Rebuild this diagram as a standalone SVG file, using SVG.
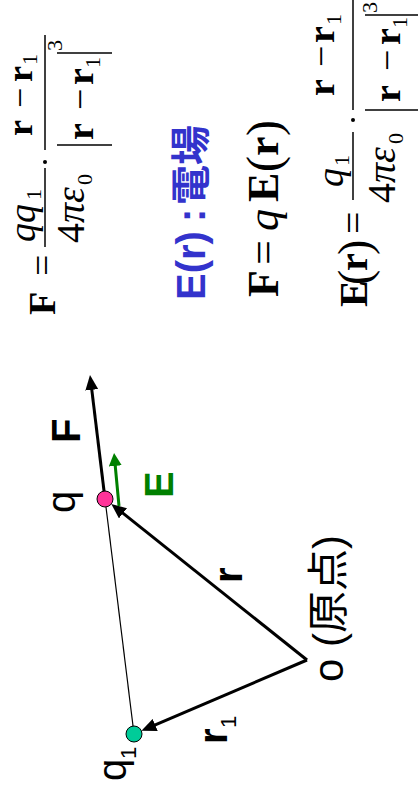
<svg xmlns="http://www.w3.org/2000/svg" width="419" height="796" viewBox="0 0 419 796">
<style>
.m{font-family:"Liberation Serif","Times New Roman",serif;fill:#000}
.s{font-family:"Liberation Sans",Arial,"Noto Sans CJK JP",sans-serif;fill:#000}
.b{font-weight:bold}
.i{font-style:italic}
.bar{stroke:#000;stroke-width:1.5}
.conn{fill:none;stroke:#000;stroke-width:3}
.thin{fill:none;stroke:#000;stroke-width:1.2}
.blue{font-family:"Liberation Sans",Arial,"Noto Sans CJK JP",sans-serif;font-weight:bold;fill:#3333cc}
</style>
<defs>
<marker id="ah" viewBox="0 0 15 13" refX="5" refY="6.5" markerWidth="15" markerHeight="13" markerUnits="userSpaceOnUse" orient="auto"><path d="M0,0 L15,6.5 L0,13 z" fill="#000"/></marker>
<marker id="ahg" viewBox="0 0 13 13" refX="5" refY="6.5" markerWidth="13" markerHeight="13" markerUnits="userSpaceOnUse" orient="auto"><path d="M0,0 L13,6.5 L0,13 z" fill="#008000"/></marker>
</defs>
<rect width="419" height="796" fill="#fff"/>

<g id="connectors">
<line class="thin" x1="134" y1="734" x2="105" y2="499"/>
<line class="conn" x1="105" y1="499" x2="91.2" y2="384.9" marker-end="url(#ah)"/>
<line class="conn" x1="307" y1="660" x2="119.1" y2="510.2" marker-end="url(#ah)"/>
<line class="conn" x1="307" y1="660" x2="150.6" y2="726.9" marker-end="url(#ah)"/>
<line x1="119" y1="506" x2="114.8" y2="461" stroke="#008000" stroke-width="3" marker-end="url(#ahg)"/>
<g transform="translate(0,796) rotate(-90)">
<text class="s b" x="353" y="80" font-size="40">F</text>
<text class="s b" x="298" y="173" font-size="40" style="fill:#008000">E</text>
<text class="s b" x="213" y="242" font-size="40">r</text>
<text class="s b" x="52" y="227" font-size="40">r</text>
<text class="s" x="68" y="236" font-size="22">1</text>
</g>
</g>

<g id="node-q">
<circle cx="105" cy="499" r="8" fill="#ff3399" stroke="#000" stroke-width="1"/>
<text class="s" transform="translate(0,796) rotate(-90)" x="283" y="75" font-size="40">q</text>
</g>

<g id="node-q1">
<circle cx="134" cy="734" r="8" fill="#00cc99" stroke="#000" stroke-width="1"/>
<g transform="translate(0,796) rotate(-90)">
<text class="s" x="15" y="126" font-size="40">q</text>
<text class="s" x="37" y="136" font-size="22">1</text>
</g>
</g>

<g id="node-origin">
<text class="s" transform="translate(0,796) rotate(-90)" x="114" y="343" font-size="42">o (原点)</text>
</g>

<g id="eq-coulomb-force" transform="translate(0,796) rotate(-90)">
<text class="m b" x="481" y="55" font-size="38">F</text>
<text class="m" x="520" y="55" font-size="38">=</text>
<line class="bar" x1="549" y1="45" x2="628" y2="45"/>
<text class="m i" x="554" y="35" font-size="38">qq</text>
<text class="m" x="596" y="41" font-size="22">1</text>
<text class="m" x="553" y="84" font-size="40">4<tspan class="i">πε</tspan></text>
<text class="m" x="611" y="92" font-size="22">0</text>
<circle cx="634" cy="45" r="2"/>
<line class="bar" x1="646" y1="45" x2="761" y2="45"/>
<text class="m b" x="660" y="32" font-size="36">r</text>
<text class="m" x="688" y="32" font-size="36">−</text>
<text class="m b" x="714" y="32" font-size="36">r</text>
<text class="m" x="731" y="37" font-size="22">1</text>
<line class="bar" x1="651" y1="57" x2="651" y2="112"/>
<line class="bar" x1="743" y1="57" x2="743" y2="112"/>
<text class="m b" x="656" y="93" font-size="38">r</text>
<text class="m" x="686" y="93" font-size="38">−</text>
<text class="m b" x="711" y="93" font-size="38">r</text>
<text class="m" x="728" y="100" font-size="22">1</text>
<text class="m" x="745" y="62" font-size="22">3</text>
</g>

<g id="eq-field-label" transform="translate(0,796) rotate(-90)">
<text class="blue" x="496" y="205" font-size="40">E(r)</text>
<text class="blue" x="574" y="205" font-size="40">:</text>
<text class="blue" x="591" y="205" font-size="40" style="font-family:'Noto Sans CJK JP',sans-serif">電場</text>
</g>

<g id="eq-force-field" transform="translate(0,796) rotate(-90)">
<text class="m b" x="499" y="278" font-size="44">F</text>
<text class="m" x="531" y="278" font-size="44">=</text>
<text class="m i" x="565" y="278" font-size="44">q</text>
<text class="m b" x="594" y="278" font-size="44">E</text>
<text class="m" x="624" y="280" font-size="48">(</text>
<text class="m b" x="640" y="278" font-size="44">r</text>
<text class="m" x="660" y="280" font-size="48">)</text>
</g>

<g id="eq-field-coulomb" transform="translate(0,796) rotate(-90)">
<text class="m b" x="489" y="367" font-size="40">E</text>
<text class="m" x="511" y="370" font-size="46">(</text>
<text class="m b" x="525" y="367" font-size="40">r</text>
<text class="m" x="541" y="370" font-size="46">)</text>
<text class="m" x="562" y="367" font-size="40">=</text>
<line class="bar" x1="596" y1="353" x2="664" y2="353"/>
<text class="m i" x="609" y="343" font-size="38">q</text>
<text class="m" x="630" y="349" font-size="22">1</text>
<text class="m" x="593" y="395" font-size="40">4<tspan class="i">πε</tspan></text>
<text class="m" x="652" y="403" font-size="22">0</text>
<circle cx="676" cy="353" r="2"/>
<line class="bar" x1="686" y1="353" x2="800" y2="353"/>
<text class="m b" x="700" y="334" font-size="38">r</text>
<text class="m" x="729" y="334" font-size="38">−</text>
<text class="m b" x="753" y="334" font-size="38">r</text>
<text class="m" x="771" y="341" font-size="22">1</text>
<line class="bar" x1="686" y1="365" x2="686" y2="418"/>
<line class="bar" x1="781" y1="365" x2="781" y2="418"/>
<text class="m b" x="694" y="400" font-size="38">r</text>
<text class="m" x="725" y="400" font-size="38">−</text>
<text class="m b" x="751" y="400" font-size="38">r</text>
<text class="m" x="768" y="407" font-size="22">1</text>
<text class="m" x="783" y="377" font-size="22">3</text>
</g>
</svg>
